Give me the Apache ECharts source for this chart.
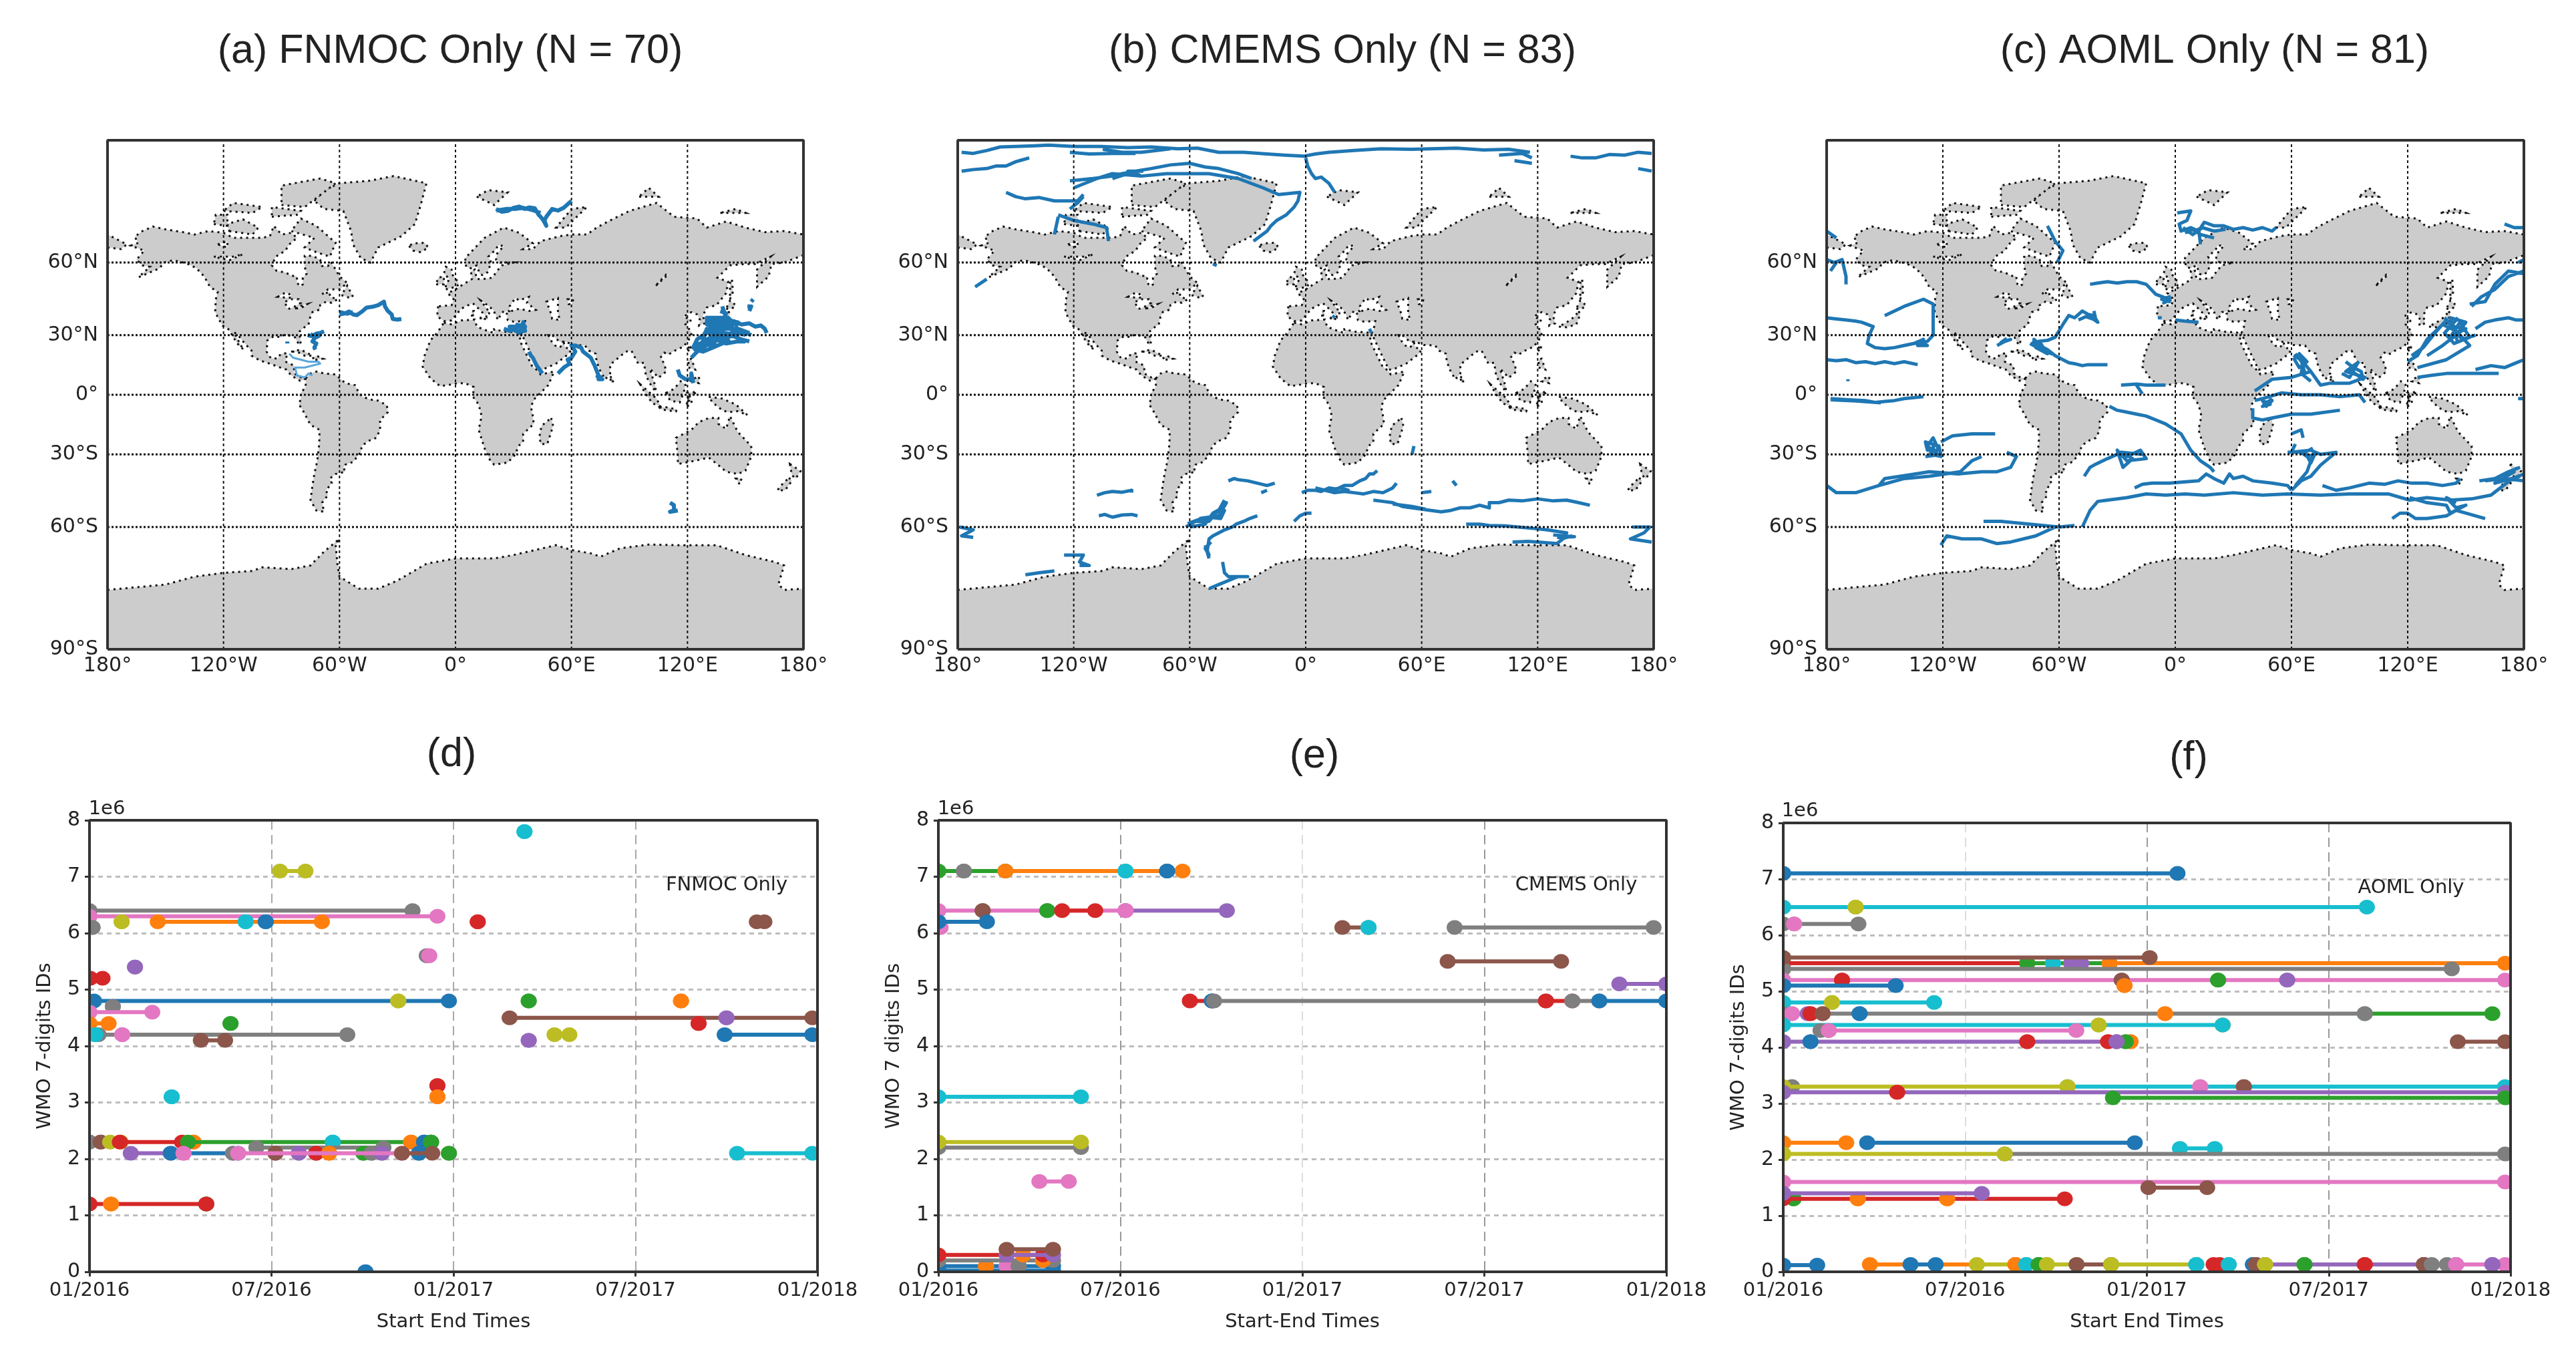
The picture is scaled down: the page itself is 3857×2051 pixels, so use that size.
<!doctype html>
<html>
<head>
<meta charset="utf-8">
<title>Drifter tracks</title>
<style>
  html, body { width: 100%; height: 100%; margin: 0; padding: 0; background: #fff; }
  #container { width: 100%; height: 100%; }
</style>
<script src="https://cdn.jsdelivr.net/npm/echarts@6/dist/echarts.min.js"></script>
</head>
<body>
<div id="container"></div>
<script>
// map axes
const lonTicks = [-180, -120, -60, 0, 60, 120, 180];
const lonLabels = ['180°', '120°W', '60°W', '0°', '60°E', '120°E', '180°'];
const latTicks = [60, 30, 0, -30, -60, -90];
const latLabels = ['60°N', '30°N', '0°', '30°S', '60°S', '90°S'];

// timeline axes, x in months after 01/2016
const timeLabels = ['01/2016', '07/2016', '01/2017', '07/2017', '01/2018'];

// land outlines [lon, lat]
const northAmerica = [[-168,65.6],[-164,66.5],[-166,68.3],[-162,70],[-156.5,71.3],[-150,70.5],[-141,69.7],[-135,69],[-128,70],[-120,69.5],[-115,68],[-108,68],[-100,68],[-96,68.5],[-94,71.5],[-90,69],[-85,69.5],[-82,68],[-86,66],[-88,64],[-93,62],[-95,59],[-92.5,57],[-88,56.5],[-85,55.3],[-82,55],[-82,52.5],[-80,51.2],[-79,52],[-79,54.5],[-77,56],[-78,58.5],[-78,62.3],[-74,62.3],[-70,61],[-69,58.8],[-66,58.8],[-64.5,60.3],[-62,57.5],[-60,55],[-56,52.5],[-60,50],[-66,50],[-69,48],[-65,49],[-65,47],[-61,46],[-64,44.5],[-67,45],[-70,43.5],[-70,41.7],[-74,40.5],[-75.5,37.5],[-76,35],[-78,33.8],[-81,31.5],[-80,27],[-80.5,25.2],[-82,27],[-83,29],[-85,29.7],[-89,30],[-90,29],[-94,29.5],[-97.3,27.5],[-97.7,22],[-95.5,18.7],[-92,18.6],[-90.5,20.8],[-87,21.3],[-88,17],[-83.5,15],[-83.5,11],[-80,9],[-77.5,8.5],[-78.5,7.5],[-80.5,7.3],[-85,10],[-87.5,13],[-92,14.5],[-96,16],[-101,17.5],[-105.5,20],[-105.5,22.5],[-109,26],[-112.5,30],[-114.7,31.5],[-111,25],[-109.5,23],[-112,25],[-115,29],[-117,32.5],[-120.5,34.5],[-122.5,37.5],[-124.3,40.5],[-124,46],[-123,49],[-127,51],[-130,55],[-134,58],[-139,59.7],[-146,60.8],[-151,60],[-153,58],[-158,56.5],[-164,54.7],[-158,58.5],[-162,59],[-165,61],[-161,64]];
const southAmerica = [[-77.5,8.5],[-75,11],[-72,12],[-68,11],[-62,10.5],[-57,6],[-52,5],[-50,1],[-48,-1],[-44,-2.5],[-40,-3],[-35.5,-5.5],[-35,-9],[-39,-13],[-39,-18],[-41,-22],[-45,-23.5],[-48.5,-26],[-49,-29],[-53,-33.5],[-57,-34.8],[-58,-36],[-57,-38],[-62,-39],[-65,-41],[-64,-43],[-67,-46],[-66,-48],[-69,-51],[-68,-54.5],[-72,-54],[-75,-50],[-74,-44],[-73,-39],[-71.5,-33],[-70.5,-25],[-70.3,-18],[-75,-15.5],[-79,-8],[-81,-5],[-80,-2],[-80,1],[-77.5,4]];
const africa = [[-6,35.8],[-2,35],[3,36.8],[10,37.2],[11,34],[15,32.5],[20,31],[20,32.8],[25,31.7],[32,31.2],[34.3,31.3],[34.8,29.5],[33,28],[35,24],[37,20],[39.5,15],[43,12],[44,10.5],[51,12],[48,5],[41,-2],[39,-6],[40,-11],[40.5,-15],[35,-20],[35,-24],[32.5,-26],[31,-30],[27,-33.8],[20,-34.8],[18,-33],[15,-27],[12,-18],[13.5,-11],[12,-5],[9,-1],[9.5,4],[5,6],[1,6],[-4,5],[-8,4.5],[-13,8.5],[-17,14.5],[-16,20],[-13,27.5],[-9.5,31]];
const eurasia = [[-9,43],[-9.5,38.7],[-6,36.5],[-2,36.8],[0,39],[3,42],[6,43.3],[9,44.3],[12,42],[16,38.5],[16,40],[18,40],[13,45.5],[15,44.5],[19.5,41.5],[22,37],[24,40.5],[28,41],[28,43],[31,46.5],[33,45.5],[38,47],[37,44.5],[41.5,41.5],[38,41],[33,42],[29,41],[26.5,39.8],[27,37],[30,36.3],[36,36.5],[35,32],[34.3,31.3],[34.8,29.5],[39,21],[43,13],[45,13],[52,16],[58,20.5],[59.7,22.5],[56.5,24.5],[56,26.5],[54,24],[51.5,25],[50,26.5],[48,30],[50,30],[54,26.8],[57,26.8],[61,25.3],[67,25],[69,22.5],[72.5,21],[73,17],[75,12],[77.5,8],[80,11],[80,15.5],[85,19.5],[88,22],[91,22.5],[94.5,16],[97.5,16.5],[98.5,10],[100.5,6],[103.5,1.5],[103.5,4],[100.5,13.5],[103,11],[105,8.8],[109,12],[108,16],[106,19],[108,21.5],[110,20.5],[113.5,22.5],[118,24.5],[122,29.5],[122,31.5],[119,35],[122,37],[118,38.5],[122,40.5],[125,39.5],[126.5,37],[126,34.5],[129,35.5],[128,39],[130,42.5],[135,43.5],[140,48.5],[141,53],[135.5,54.5],[142,59],[150,59.5],[155,59.5],[163,62],[156,57.5],[156,51],[162,55],[163.5,59.5],[170,60],[180,62.5],[180,69],[170,70],[160,69.7],[150,71],[140,72.7],[130,71],[125,73.5],[113,74],[104,77.5],[90,75.5],[80,73],[73,71],[68,69],[60,69],[54,68.5],[44,67],[40,64.5],[35,64.5],[40,66.3],[33,69.5],[25,71],[15,68],[5,61.5],[5.5,58.5],[8,58],[11,59],[12.5,56],[14,55.5],[16.5,56.5],[18.5,60],[17,62],[21,64.5],[22,65.7],[25,65.5],[21.5,63],[21,61],[23,60],[30,60],[24,59],[21.5,57],[19,54.5],[14,54],[11,54],[10,57.5],[8,57],[8.5,54],[4,52],[0,50],[-4,48.5],[-1,46],[-2,43.5]];
const chukotka = [[-180,65],[-173,64.5],[-170,66],[-180,69]];
const greenland = [[-73,78],[-68,80.5],[-60,82],[-45,82.5],[-32,83.5],[-15,82],[-18,77],[-21,72],[-28,68.5],[-40,65],[-44,60],[-49,61.5],[-53,66],[-54,70],[-58,75.5],[-68,76]];
const australia = [[114,-22],[122,-18],[126,-14],[131,-12],[136,-12],[136,-15],[140,-17.5],[142,-11],[146,-19],[153,-26],[153,-31],[150,-37.5],[146,-39],[140,-38],[136,-35],[131,-31.5],[124,-33],[115,-34.5],[115,-30]];
const antarctica = [[-180,-78.3],[-150,-77],[-135,-75],[-120,-74],[-105,-73.5],[-100,-72.5],[-85,-73],[-75,-72],[-68,-68],[-60,-64],[-62,-66],[-61,-72],[-60,-75],[-50,-78],[-40,-78],[-30,-76],[-15,-71.5],[0,-70],[20,-70],[30,-69],[52,-66],[60,-67.5],[70,-68.5],[75,-69.5],[85,-67],[100,-65.8],[115,-66],[135,-66],[150,-69],[165,-71],[170,-72],[167,-77],[170,-78.3],[180,-78],[180,-90],[-180,-90]];
const islands = [
  [[49.5,-12],[50.5,-16],[47.5,-25],[44,-25],[43.5,-21],[44.5,-16]],
  [[-5,50],[1,51.2],[1.5,52.8],[-2,56],[-2,57.5],[-5,58.5],[-6,56],[-3,54],[-5,52]],
  [[-10,52],[-6,52],[-6,55],[-9,54.5]],
  [[-24,65.5],[-22,64],[-18,63.5],[-14,65],[-16,66.5],[-22,66.3]],
  [[131,34],[135,33.7],[140,35],[142,39.5],[141,41.3],[139.8,39],[136,36.5]],
  [[140,42],[143,42],[145,43.5],[142,45.5]],
  [[142,46],[143.5,49],[143,54],[142,53],[142,47]],
  [[120.2,23],[121,22],[122,25],[121,25]],
  [[120.5,14],[124,13],[122,18.5],[120.5,18]],
  [[122,7],[126,6],[126,9.5],[123.5,8.5]],
  [[109,1],[111,-3],[116,-4],[118,1],[119,5],[116.5,7],[113,3]],
  [[95.5,5.5],[104,-2],[106,-6],[102,-4.5],[98,1]],
  [[105.5,-6.5],[110,-6.5],[114.5,-7.7],[114,-8.7],[106,-7.5]],
  [[119.5,-5],[120.5,-2.7],[119.7,1],[125,1.5],[121,-1],[122.5,-4.5],[120.5,-3],[120.3,-5.5]],
  [[131,-1],[138,-2],[145,-5],[151,-10.5],[146,-8.5],[141,-9],[138,-8],[133,-4]],
  [[173,-34.5],[178.5,-37.7],[176,-41],[174,-39.5]],
  [[172.5,-40.7],[174,-42],[170.5,-46],[166.5,-46],[169,-43.5]],
  [[-85,22],[-80,23],[-74,20],[-78,20],[-82,22]],
  [[-74,18.5],[-72,20],[-68.5,18.5],[-72,18]],
  [[80,9.5],[82,7.5],[80.5,6]],
  [[-59,47.7],[-55.5,46.8],[-53,47],[-56,51.5]],
  [[-80,73.5],[-72,71.5],[-62,66.5],[-65,62],[-72,63.5],[-78,65],[-73,68],[-85,70]],
  [[-117,70],[-105,69],[-102,71],[-110,73.3],[-118,72]],
  [[-90,77],[-78,76.5],[-62,82],[-70,83],[-90,81.5]],
  [[-125,72],[-118,71.5],[-118,74.5],[-124,74.5]],
  [[-95,74],[-82,74.5],[-80,75.5],[-95,76.5]],
  [[-120,75.5],[-105,75],[-100,76.5],[-115,77.5]],
  [[11,79],[20,77],[27,80],[17,80.5]],
  [[52,71],[57,71],[68,76.5],[60,76]],
  [[95,79],[105,79],[100,81]],
  [[137,75],[150,75],[145,76]],
  [[145,-41],[148,-41],[147,-43.5]],
  [[8.5,39],[9.7,39.2],[9.5,41],[8.3,40.8]],
  [[12.5,38],[15.5,38],[15,36.8]]
];
const lakes = [
  [[47,45],[53,46.5],[53,40],[54,37],[50,37.5],[49,41]],
  [[58,46],[61,46],[60,44],[58.5,44]],
  [[-92,47],[-88,48.7],[-85,47.8],[-85,46.7],[-88,46.7]],
  [[-88,45],[-85,46],[-81,46],[-80,44.5],[-83,43],[-86,42],[-87.5,42.5]],
  [[-83,42],[-79,43.5],[-76.5,44],[-79,42.7]],
  [[-125,62],[-115,62],[-110,62.8],[-117,60.8]],
  [[-123,66],[-118,67],[-118,65]],
  [[103.7,51.5],[110,55.7],[109,55.7],[105,52.7]]
];
const landPolygons = [northAmerica, southAmerica, africa, eurasia, chukotka, greenland, australia, antarctica].concat(islands);

// drifter tracks [lon, lat]
const fnmocTracks = [
  [[21,76],[24,75.3],[27,75.5],[30,76.3],[33,76.6],[36,76],[38,76.4],[41,76.2],[43,74.5],[44,74],[45.5,73],[47,71.5],[46,73],[47,74],[50,76],[53,75.6],[56,76.3],[60,78]],
  [[21,75.6],[26,76],[31,76],[35,76.3],[40,75.7],[44,75]],
  [[-60,39.5],[-57,40],[-55,40.8],[-53,39.5],[-51,39.2],[-48,41],[-46,42.5],[-43,42.8],[-40,43.5],[-37,45],[-36.5,43],[-35,41],[-33,39.5],[-32.5,37.5],[-30,37.2],[-28,37.5]],
  [[-60,40.5],[-56,39.8],[-53,40.5]],
  [[-76.5,30],[-74,29.5],[-72,30.7],[-70,31],[-68,31.8]],
  [[-73,31],[-72.5,29],[-74,27],[-72,26],[-73,24],[-72.5,23]],
  [[-75,30.5],[-72,29],[-70,30]],
  [[-87,27],[-87,26]],
  [[25,33],[28,32],[31,33],[33,31],[35,36],[36,32],[31,32],[28,34],[33,34],[36,34],[31,35]],
  [[38,22],[39,20],[40,19],[41,17],[42,15],[45,11]],
  [[53,11],[56,14],[59,16],[58,18],[60,19],[62,22],[60,25],[62,25],[65,24],[66,22],[70,19],[71,17],[72,15],[74,10],[74,8],[76,8],[73.5,9.5],[76,9]],
  [[115,13],[116,10],[119,8],[122,8],[122,11],[123,6]],
  [[130,37],[134,36.5],[140,36],[144,36.5],[148,35],[152,35.5],[155,34],[158,34.5],[160,33],[161,31]],
  [[138,43],[140,38],[135,34],[130,31],[125,28],[123,24],[125,25],[130,28],[135,30],[142,30],[148,28],[152,27]],
  [[122,19],[125,22],[128,24],[133,27],[138,28],[144,32],[150,30]],
  [[130,36],[135,36],[140,33],[135,32],[130,33],[128,28],[135,28],[140,26],[146,27],[150,27]],
  [[146,34],[141,38],[136,38],[130,38],[130,35],[138,33],[146,33],[152,31]],
  [[131,38],[139,37],[146,36],[139,35],[131,35],[135,38],[143,34],[134,33],[129,31],[139,31],[146,30],[140,29],[132,29]],
  [[125,26],[129,25],[134,26],[129,27],[124,23],[128,22],[133,24],[138,26],[142,28]],
  [[137,41],[140,40],[138,36],[142,33],[148,32],[153,30]],
  [[152,41],[153,43],[151,43]],
  [[153,45],[154,46]],
  [[111,-51],[113,-52],[113,-54],[111,-54.5],[115,-54]]
];
const fnmocCaribbeanTrack = [[-86,21],[-84,19],[-80,18],[-76,17],[-71,17],[-70,16],[-78,14],[-83,14],[-82,10],[-78,9],[-76,11],[-74,10]];
const cmemsTracks = [
  [[-178,88],[-172,87.8],[-165,88.3],[-158,88.9],[-150,89],[-140,89.1],[-133,89.2],[-120,89],[-106,89],[-92,88.8],[-80,88.9],[-66,88.6],[-56,88.7],[-45,88],[-32,88],[-20,87.7],[-11,87.5],[-1,87.3],[5,87.7],[12,88],[25,88.3],[39,88.6],[55,88.5],[78,88.7],[92,88.4],[105,88.5],[116,88]],
  [[-178,84.5],[-172,84.8],[-165,85],[-160,85.5],[-155,85.5],[-150,86.3],[-148,86.5],[-143,87]],
  [[-122,88],[-112,87.7],[-100,87.8],[-88,87.8]],
  [[-105,88.5],[-95,88],[-85,88],[-70,88.6]],
  [[-122,82.5],[-110,83],[-100,83.5],[-95,84],[-88,84.5],[-80,85],[-70,85.7],[-60,86],[-52,85.3],[-45,85],[-35,84],[-28,83]],
  [[-100,83],[-92,84],[-86,83.7],[-92,84.5],[-84,84.5]],
  [[-120,81],[-108,83],[-100,84],[-85,83.5],[-72,84],[-50,84],[-35,83],[-22,81],[-14,79.5],[-3,80],[-4,78],[-6,76.5],[-10,74.5],[-15,73],[-18,71.5],[-20,70],[-27,67]],
  [[-155,80],[-150,79],[-145,78.5],[-138,78.8],[-130,78],[-124,78],[-118,78],[-115,79.5]],
  [[-122,76],[-118,77.5],[-115,79]],
  [[-128,74.5],[-120,73],[-110,72],[-103,71],[-102,67]],
  [[-128,74],[-130,69]],
  [[-171,51],[-165,54]],
  [[-48,59.5],[-46,59]],
  [[0,87],[1,85.5],[3,84],[5,83],[8,83.3],[12,82],[15,80]],
  [[137,87.3],[143,87],[150,87],[157,87.6],[165,87.5],[172,88],[179,87.8]],
  [[172,85],[179,84.5]],
  [[108,86.5],[117,86]],
  [[100,87.5],[112,87.8],[117,87]],
  [[14,38],[15,39]],
  [[34,31],[33,33]],
  [[55,-30],[56,-26]],
  [[-108,-48],[-104,-47],[-100,-46.5],[-95,-46.8],[-90,-46],[-90,-47]],
  [[-107,-56],[-104,-55.5],[-100,-56.5],[-95,-55.7],[-90,-55.5],[-87,-56]],
  [[-40,-42],[-37,-41],[-35,-41.5],[-30,-42],[-25,-43],[-20,-44],[-16,-43]],
  [[-23,-47],[-20,-46]],
  [[-2,-47],[1,-46],[5,-46],[8,-46.5],[12,-45],[16,-45.5],[20,-44],[24,-44],[28,-42],[31,-41],[33,-39],[35,-39],[37,-37.5]],
  [[5,-45],[10,-46],[15,-47],[20,-46.5],[25,-47],[30,-47.5],[35,-46.5],[40,-47],[45,-45],[47,-43]],
  [[12,-46],[18,-45],[22,-46],[14,-47]],
  [[60,-47],[65,-46.5]],
  [[76,-42],[78,-44]],
  [[35,-50],[40,-50.5],[45,-51],[50,-52.5],[55,-53],[60,-53.5],[65,-54],[70,-54.5],[75,-54],[80,-53],[85,-53],[90,-52],[95,-53],[95,-51],[100,-51],[105,-50],[112,-50.3],[120,-49.5],[128,-50.3],[135,-50],[140,-50.8],[147,-52]],
  [[45,-51.5],[55,-52.5],[62,-53.5]],
  [[-6,-58],[-3,-56],[0,-55],[3,-55]],
  [[-62,-60],[-57,-58],[-52,-58],[-48,-56],[-45,-54],[-42,-50]],
  [[-60,-60],[-52,-59],[-48,-55],[-43,-53],[-41,-51],[-45,-56],[-55,-57]],
  [[-61,-58.8],[-54,-57],[-50,-58],[-46,-54.5],[-42,-54],[-44,-57],[-50,-56.5]],
  [[-25,-56],[-29,-57],[-32,-58],[-36,-59],[-38,-60],[-42,-61],[-45,-62],[-48,-63],[-50,-64],[-51,-68],[-50,-70]],
  [[-49,-65],[-52,-67],[-50,-69],[-52,-66]],
  [[-43,-71],[-42,-74],[-40,-75],[-30,-75],[-35,-75],[-45,-77],[-50,-78]],
  [[83,-59],[90,-59],[95,-59.5],[103,-59.6],[110,-60],[118,-60.5],[125,-61],[135,-62],[132,-64],[138,-63]],
  [[128,-62.7],[139,-63.3],[130,-63.5]],
  [[107,-65],[115,-64.8],[120,-65],[130,-65.5],[135,-63]],
  [[169,-60],[178,-60],[175,-62],[168,-64],[179,-65]],
  [[-179,-60],[-172,-61],[-178,-63],[-172,-63.5]],
  [[-125,-69],[-115,-69],[-117,-71],[-112,-72],[-117,-72]],
  [[-145,-74.5],[-138,-74],[-130,-73.5]]
];
const aomlTracks = [
  [[1,75],[8,75.5],[6,73],[2,72],[3,70],[8,71],[12,70],[15,72.5],[20,71.5],[25,71.5],[30,70.5],[35,71],[40,70.3],[45,71],[50,70],[52,71]],
  [[5,69.5],[9,70.5],[13,69],[20,68]],
  [[4,71],[9,69],[14,71],[20,70],[26,70.5]],
  [[12,71],[13,66]],
  [[-66,71.5],[-62,67],[-58,64],[-61,60]],
  [[-180,70],[-175,68]],
  [[-180,61],[-176,60],[-172,61],[-170,55],[-170,52]],
  [[-175,60],[-178,57]],
  [[-44,52],[-40,52.5],[-35,53],[-30,52.5],[-25,53],[-20,53],[-15,52],[-10,48],[-5,46.5],[-3,45],[-5,45.5],[-7,46],[-3,47],[-6,44.5],[-2,46]],
  [[-9,38],[-7,38]],
  [[0,37],[5,36.5],[12,36]],
  [[-180,38],[-175,37.5],[-170,37],[-165,36.5],[-162,36],[-156,34],[-158,30],[-159,26],[-155,24],[-150,23.5],[-145,24],[-140,25],[-135,26],[-128,27],[-125,30],[-125,36],[-125,44],[-130,46],[-140,43],[-150,39]],
  [[-135,26],[-130,28],[-133,25],[-128,25],[-132,27]],
  [[-180,18],[-175,17.5],[-170,18],[-165,16.5],[-160,17],[-155,16],[-150,17],[-145,16],[-140,17],[-133,15.5]],
  [[-178,-2],[-170,-2.5],[-160,-3],[-155,-4],[-150,-3.5],[-145,-3],[-140,-2],[-130,-1]],
  [[-178,-2.6],[-165,-3.2],[-152,-4.2]],
  [[-169,8],[-169,7]],
  [[-74,27],[-70,25],[-66,23],[-62,20],[-58,18],[-55,16.5],[-52,16],[-48,15],[-45,15.5],[-35,15.5]],
  [[-74,25],[-70,27],[-67,22],[-72,24],[-66,21],[-73,28],[-68,24],[-64,21],[-69,23],[-75,26]],
  [[-92,25],[-88,27],[-85,28],[-90,26.5],[-87,28.5]],
  [[-71,27],[-66,27.5],[-62,29],[-58,35],[-55,39],[-52,38],[-48,41],[-45,39.5],[-42,39],[-40,36],[-45,39],[-50,37]],
  [[-42,41],[-41,37],[-46,38.5]],
  [[-28,5],[-20,5.5],[-15,5],[-5,5]],
  [[-20,5],[-17,0.5]],
  [[-34,-6],[-30,-8],[-25,-9],[-20,-10],[-15,-11],[-10,-13],[-5,-15],[3,-20],[8,-28],[13,-33],[18,-36],[20,-38]],
  [[-47,-40],[-44,-36],[-42,-35],[-35,-32],[-30,-30],[-25,-31],[-18,-28],[-15,-32],[-25,-33],[-30,-28],[-27,-36],[-22,-32],[-28,-29],[-17,-30]],
  [[-21,-45],[-17,-43.5],[-12,-43],[-3,-43],[12,-42],[16,-39],[20,-41],[25,-43],[28,-39],[30,-41],[35,-40],[40,-42],[50,-43],[58,-44],[60,-46]],
  [[60,-46],[65,-42],[70,-40],[75,-35],[83,-29],[75,-30],[70,-28],[60,-29],[62,-25]],
  [[72,-28],[68,-38],[62,-44]],
  [[58,-29],[65,-29],[68,-31],[72,-30],[70,-34],[67,-29],[71,-27]],
  [[76,-44],[83,-46],[90,-45],[100,-43],[108,-43.5],[115,-42],[122,-43],[130,-43],[138,-44],[145,-43],[147,-41]],
  [[157,-42],[165,-41],[172,-38],[178,-36]],
  [[160,-42],[170,-41],[180,-42]],
  [[170,-40],[175,-38],[165,-43],[178,-40]],
  [[-180,-44],[-175,-47],[-165,-47],[-153,-44],[-150,-41],[-138,-39.5],[-127,-38],[-112,-39],[-100,-38],[-92,-38],[-85,-36],[-82,-31],[-87,-29]],
  [[-153,-44],[-140,-41],[-127,-40],[-111,-38],[-105,-33],[-100,-31]],
  [[-129,-31],[-121,-30],[-122,-26],[-129,-24],[-128,-28],[-122,-28],[-125,-22],[-128,-26],[-121,-31],[-126,-30],[-124,-24],[-127,-31]],
  [[-121,-24],[-115,-21],[-105,-20],[-93,-20]],
  [[-48,-60],[-44,-54],[-40,-50.5],[-35,-50],[-25,-49],[-15,-47.5],[-5,-48],[5,-47.5],[15,-48],[30,-47],[45,-48],[58,-47.5],[75,-48],[90,-47.5],[110,-47.5],[121,-50],[130,-49],[142,-50],[153,-49.5],[163,-48],[174,-41],[180,-39]],
  [[-99,-58],[-90,-58],[-75,-59],[-60,-60],[-52,-59.5]],
  [[-121,-66],[-118,-63],[-110,-64],[-100,-64],[-92,-65.5],[-85,-65],[-72,-63],[-62,-60]],
  [[112,-57],[116,-55],[120,-55],[124,-57],[130,-57],[140,-56],[145,-54],[150,-55],[160,-57]],
  [[121,-49],[130,-51],[140,-52],[142,-55],[150,-52],[145,-53],[140,-49],[145,-51]],
  [[41,2],[50,8],[60,9],[70,12]],
  [[41,-3],[45,-2],[55,1],[65,0],[75,0],[85,-1],[95,0],[98,-4]],
  [[40,-7],[40,-12],[45,-13],[50,-12],[60,-10],[70,-10],[85,-8]],
  [[46,-4],[50,-3],[47,-6],[45,-3],[49,-5],[45,-6],[50,-2]],
  [[61,20],[65,18],[70,12],[75,5],[80,6],[90,6],[98,9],[88,12],[92,15],[95,17]],
  [[88,17],[92,14],[96,12],[97,8],[90,13],[94,16],[90,9],[86,11]],
  [[62,21],[66,16],[65,11],[70,7]],
  [[61,19],[64,14],[68,17],[64,21],[67,11]],
  [[60,-20],[65,-18],[66,-22]],
  [[120,17],[125,20],[130,28],[138,35],[145,32],[152,25],[140,18],[125,14]],
  [[122,20],[128,24],[135,32],[140,37],[148,28],[155,30]],
  [[130,20],[138,25],[145,30],[150,36],[142,38],[146,26]],
  [[139,38],[144,34],[150,33],[142,29],[147,36],[152,29],[144,26],[139,31],[146,38]],
  [[155,33],[160,36],[165,37],[172,38],[176,37],[180,37]],
  [[155,13],[163,15],[170,14],[175,16],[180,18]],
  [[125,9],[132,10],[140,11],[155,11],[167,11]],
  [[153,43],[158,47],[165,50],[172,55],[180,57]],
  [[152,44],[160,45],[165,52],[172,57],[180,56]],
  [[170,72],[175,71],[180,71]],
  [[177,60],[180,61]],
  [[177,-2],[180,-2]]
];

// timelines: [start month, end month, WMO id / 1e6, plot order]
const fnmocSegments = [
  [6.28,7.12,7.1,8],[14.34,14.34,7.8,9],[0,10.65,6.4,7],[0,11.47,6.3,6],[2.25,7.66,6.2,1],[1.06,1.06,6.2,8],[5.15,5.15,6.2,9],[5.81,5.81,6.2,0],[0.1,0.1,6.1,7],[12.8,12.8,6.2,3],[22,22.25,6.2,5],
  [1.5,1.5,5.4,4],[11.12,11.12,5.6,7],[11.2,11.2,5.6,6],[0.03,0.43,5.2,3],[0.15,11.85,4.8,0],[10.18,10.18,4.8,8],[14.48,14.48,4.8,2],[19.5,19.5,4.8,1],[0.77,0.77,4.7,7],[0,2.07,4.6,6],
  [0,0.63,4.4,1],[4.65,4.65,4.4,2],[0.3,8.5,4.2,7],[0.19,0.19,4.2,9],[1.08,1.08,4.2,6],[3.67,4.47,4.1,5],[13.85,23.83,4.5,5],[21,21,4.5,4],[20.08,20.08,4.4,3],[20.94,23.83,4.2,0],[15.33,15.82,4.2,8],[14.48,14.48,4.1,4],
  [2.71,2.71,3.1,9],[11.47,11.47,3.3,3],[11.47,11.47,3.1,1],
  [0,0,2.3,7],[0.37,0.37,2.3,5],[0.68,1.03,2.3,8],[1,3.05,2.3,3],[3.43,3.43,2.3,1],[3.25,11.26,2.3,2],[8.02,8.02,2.3,9],[10.6,10.6,2.3,1],[11.03,11.03,2.3,0],[11.26,11.26,2.3,2],
  [5.5,9.69,2.2,7],[1.36,2.68,2.1,4],[2.68,4.9,2.1,0],[3.1,3.1,2.1,6],[4.73,4.73,2.1,7],[6.13,6.13,2.1,5],[6.9,6.9,2.1,4],[7.47,7.47,2.1,3],[7.9,7.9,2.1,1],[9.03,9.03,2.1,2],[9.3,9.3,2.1,7],[9.64,9.64,2.1,4],[10.86,10.86,2.1,0],[4.9,10.3,2.1,6],[10.3,11.3,2.1,5],[11.85,11.85,2.1,2],
  [21.35,23.83,2.1,9],[3.85,3.85,1.2,2],[0,3.85,1.2,3],[0.71,0.71,1.2,1],[9.1,9.1,0,0]
];
const cmemsSegments = [
  [0,2.21,7.1,2],[0.84,0.84,7.1,7],[2.21,8.05,7.1,1],[6.17,6.17,7.1,9],[7.54,7.54,7.1,0],
  [0,6.17,6.4,6],[1.46,1.46,6.4,5],[3.59,3.59,6.4,2],[4.08,5.17,6.4,3],[6.17,9.51,6.4,4],[6.17,6.17,6.4,6],
  [0.07,0.07,6.1,6],[0,1.6,6.2,0],[13.32,14.18,6.1,5],[14.18,14.18,6.1,9],[17.02,23.58,6.1,7],[16.79,20.53,5.5,5],[22.45,24,5.1,4],
  [8.29,9.02,4.8,3],[9.02,9.02,4.8,0],[9.09,20.03,4.8,7],[20.03,20.9,4.8,3],[20.9,21.79,4.8,7],[21.79,24,4.8,0],
  [0,4.7,3.1,9],[0,4.7,2.2,7],[0,4.7,2.3,8],[3.33,4.3,1.6,6],
  [0,3.78,0.02,0],[0,3.78,0.1,0],[1.57,1.57,0.1,1],[2.25,2.25,0.1,6],[2.65,2.65,0.1,7],[0,3.78,0.2,7],[3.45,3.45,0.2,1],[0,3.45,0.3,3],[2.79,2.79,0.3,1],[2.25,3.78,0.3,4],[2.25,3.78,0.4,5]
];
const aomlSegments = [
  [0,13.01,7.1,0],[0,19.26,6.5,9],[2.39,2.39,6.5,8],[0,2.48,6.2,7],[0.36,0.36,6.2,6],
  [0,8.05,5.5,3],[8.05,10.77,5.5,2],[8.9,8.9,5.5,9],[9.5,9.83,5.5,4],[10.77,23.82,5.5,1],[0,22.06,5.4,7],[0,12.09,5.6,5],
  [0,23.82,5.2,6],[1.94,1.94,5.2,3],[11.17,11.17,5.2,5],[14.35,14.35,5.2,2],[16.63,16.63,5.2,4],[0,3.71,5.1,0],[11.26,11.26,5.1,1],[0,4.98,4.8,9],[1.61,1.61,4.8,8],
  [19.19,23.4,4.6,2],[0,19.19,4.6,7],[0.29,0.29,4.6,6],[0.81,0.81,4.6,4],[0.9,0.9,4.6,3],[1.3,1.3,4.6,5],[2.52,2.52,4.6,0],[12.6,12.6,4.6,1],
  [14.5,14.5,4.4,8],[0,14.5,4.4,9],[10.41,10.41,4.4,8],[1.23,1.5,4.3,7],[1.5,9.67,4.3,6],[0,11,4.1,4],[0.9,0.9,4.1,0],[8.05,8.05,4.1,3],[10.72,10.72,4.1,3],[11.46,11.46,4.1,1],[11.3,11.3,4.1,2],[11,11,4.1,4],[22.26,23.82,4.1,5],
  [0.29,0.29,3.3,7],[9.38,23.82,3.3,9],[0,9.38,3.3,8],[13.76,13.76,3.3,6],[15.2,15.2,3.3,5],[0,23.82,3.2,4],[3.76,3.76,3.2,3],[10.88,23.82,3.1,2],
  [0,2.08,2.3,1],[2.77,11.6,2.3,0],[13.09,14.24,2.2,9],[7.31,23.82,2.1,7],[0,7.31,2.1,8],[0,23.82,1.6,6],[12.05,13.99,1.5,5],
  [0.34,0.34,1.3,2],[0,9.29,1.3,3],[2.46,2.46,1.3,1],[5.41,5.41,1.3,1],[0,6.55,1.4,4],
  [0,1.12,0.12,0],[2.86,7.66,0.13,1],[4.2,5.03,0.13,0],[6.39,8.7,0.13,8],[7.66,7.66,0.13,1],[8.02,8.02,0.13,9],[8.43,8.43,0.13,2],[8.7,9.68,0.13,8],[9.68,10.82,0.13,5],[10.82,13.63,0.13,8],[13.63,13.63,0.13,9],[14.2,14.4,0.13,3],[14.7,14.7,0.13,9],[15.5,15.5,0.13,0],[15.6,15.6,0.13,5],[15.9,21.14,0.13,4],[15.9,15.9,0.13,8],[17.2,17.2,0.13,2],[19.19,19.19,0.13,3],[21.14,21.14,0.13,5],[21.4,21.9,0.13,7],[22.2,22.2,0.13,4],[22.2,23.82,0.13,6],[23.4,23.4,0.13,4]
];

const tab10 = ['#1f77b4','#ff7f0e','#2ca02c','#d62728','#9467bd','#8c564b','#e377c2','#7f7f7f','#bcbd22','#17becf'];
const axisFont = 'DejaVu Sans';

// Miller cylindrical y, used as the map's y value
function miller(lat) {
    return 1.25 * Math.log(Math.tan(Math.PI / 4 + 0.4 * lat * Math.PI / 180));
}
const millerTop = miller(90), millerBottom = miller(-90);

const mapGrids = [
    { left: 161, right: 3857 - 1203, top: 210, bottom: 2051 - 972 },
    { left: 1434, right: 3857 - 2476, top: 210, bottom: 2051 - 972 },
    { left: 2735, right: 3857 - 3779, top: 210, bottom: 2051 - 972 }
];
const timeGrids = [
    { left: 134, right: 3857 - 1224, top: 1228, bottom: 2051 - 1904 },
    { left: 1405, right: 3857 - 2495, top: 1228, bottom: 2051 - 1904 },
    { left: 2670, right: 3857 - 3759, top: 1232, bottom: 2051 - 1904 }
];
// vertical grid greys differ from panel to panel
const timeSplitColors = [
    ['#fff', '#a8a8a8', '#a8a8a8', '#a8a8a8', '#fff'],
    ['#fff', '#999999', '#dddddd', '#999999', '#fff'],
    ['#fff', '#dddddd', '#999999', '#999999', '#fff']
];

function polygonSeries(polys, idx, fill, z) {
    return {
        type: 'custom', xAxisIndex: idx, yAxisIndex: idx, clip: true, silent: true, z: z,
        data: polys.map((p, i) => [i, 0]),
        renderItem: function (params, api) {
            const points = polys[params.dataIndex].map(p => api.coord([p[0], miller(p[1])]));
            return {
                type: 'polygon',
                shape: { points: points },
                style: { fill: fill, stroke: '#111', lineWidth: 3, lineDash: [3, 6] }
            };
        }
    };
}

function trackSeries(tracks, idx, color, width) {
    const data = [];
    tracks.forEach(t => {
        t.forEach(p => data.push([p[0], miller(p[1])]));
        data.push(['-', '-']);
    });
    return {
        type: 'line', xAxisIndex: idx, yAxisIndex: idx, data: data, silent: true, z: 4,
        showSymbol: false, symbol: 'none', connectNulls: false,
        lineStyle: { color: color, width: width, join: 'round' }
    };
}

function frameSeries(idx, x0, x1, y0, y1) {
    return {
        type: 'line', xAxisIndex: idx, yAxisIndex: idx, silent: true, z: 9, clip: false,
        symbol: 'none', showSymbol: false,
        data: [[x0, y0], [x1, y0], [x1, y1], [x0, y1], [x0, y0]],
        lineStyle: { color: '#333', width: 4 }
    };
}

function segmentSeries(segs, idx) {
    return {
        type: 'custom', xAxisIndex: idx, yAxisIndex: idx, clip: true, silent: true, z: 5,
        encode: { x: [0, 1], y: 2 },
        data: segs,
        renderItem: function (params, api) {
            const a = api.coord([api.value(0), api.value(2)]);
            const b = api.coord([api.value(1), api.value(2)]);
            const c = tab10[api.value(3)];
            const dot = p => ({ type: 'ellipse', shape: { cx: p[0], cy: p[1], rx: 12, ry: 11 }, style: { fill: c } });
            return {
                type: 'group',
                children: [
                    { type: 'line', shape: { x1: a[0], y1: a[1], x2: b[0], y2: b[1] }, style: { stroke: c, lineWidth: 6 } },
                    dot(a), dot(b)
                ]
            };
        }
    };
}

const grids = [], xAxes = [], yAxes = [], series = [];

mapGrids.forEach((g, i) => {
    grids.push(g);
    xAxes.push({
        gridIndex: i, type: 'value', min: -180, max: 180, interval: 60,
        axisLine: { show: false }, axisTick: { show: false }, splitLine: { show: false },
        axisLabel: { margin: 10, fontSize: 30, fontFamily: axisFont, color: '#222',
            formatter: v => lonLabels[lonTicks.indexOf(v)] }
    });
    yAxes.push({
        gridIndex: i, type: 'value', min: millerBottom, max: millerTop,
        axisLine: { show: false }, axisTick: { show: false }, splitLine: { show: false },
        axisLabel: { margin: 14, fontSize: 30, fontFamily: axisFont, color: '#222',
            customValues: latTicks.map(miller),
            formatter: v => latLabels[latTicks.findIndex(l => Math.abs(miller(l) - v) < 1e-6)] }
    });
    series.push(polygonSeries(landPolygons, i, '#cccccc', 2));
    series.push(polygonSeries(lakes, i, '#ffffff', 3));
    const latLines = [], lonLines = [];
    latTicks.slice(0, 5).forEach(l => latLines.push([-180, miller(l)], [180, miller(l)], ['-', '-']));
    lonTicks.slice(1, 6).forEach(l => lonLines.push([l, millerBottom], [l, millerTop], ['-', '-']));
    series.push({ type: 'line', xAxisIndex: i, yAxisIndex: i, data: latLines, silent: true, z: 6, showSymbol: false, symbol: 'none',
        lineStyle: { color: '#111', width: 3, type: [3, 3] } });
    series.push({ type: 'line', xAxisIndex: i, yAxisIndex: i, data: lonLines, silent: true, z: 6, showSymbol: false, symbol: 'none',
        lineStyle: { color: '#111', width: 2, type: [4, 4] } });
    series.push(frameSeries(i, -180, 180, millerBottom, millerTop));
});
series.push(trackSeries(fnmocTracks, 0, '#1f77b4', 6));
series.push(trackSeries([fnmocCaribbeanTrack], 0, '#5aa7dc', 3));
series.push(trackSeries(cmemsTracks, 1, '#1f77b4', 5));
series.push(trackSeries(aomlTracks, 2, '#1f77b4', 5));

const yNames = ['WMO 7-digits IDs', 'WMO 7 digits IDs', 'WMO 7-digits IDs'];
const xNames = ['Start End Times', 'Start-End Times', 'Start End Times'];
[fnmocSegments, cmemsSegments, aomlSegments].forEach((segs, k) => {
    const i = k + 3;
    grids.push(timeGrids[k]);
    xAxes.push({
        gridIndex: i, type: 'value', min: 0, max: 24, interval: 6,
        name: xNames[k], nameLocation: 'middle', nameGap: 61,
        nameTextStyle: { fontSize: 29, fontFamily: axisFont, color: '#222' },
        axisLine: { show: false }, axisTick: { length: 7, lineStyle: { color: '#333', width: 3 } },
        splitLine: { show: true, lineStyle: { color: timeSplitColors[k], width: 2, type: [14, 8] } },
        axisLabel: { margin: 14, fontSize: 29, fontFamily: axisFont, color: '#222',
            formatter: v => timeLabels[v / 6] }
    });
    yAxes.push({
        gridIndex: i, type: 'value', min: 0, max: 8, interval: 1,
        name: yNames[k], nameLocation: 'middle', nameGap: 52,
        nameTextStyle: { fontSize: 29, fontFamily: axisFont, color: '#222' },
        axisLine: { show: false }, axisTick: { length: 7, lineStyle: { color: '#333', width: 3 } },
        splitLine: { show: true, lineStyle: { color: '#bdbdbd', width: 3, type: [7, 6] } },
        axisLabel: { margin: 14, fontSize: 30, fontFamily: axisFont, color: '#222' }
    });
    series.push(segmentSeries(segs, i));
    series.push(frameSeries(i, 0, 24, 0, 8));
});

function label(text, cx, cy, size, family) {
    return {
        text: text, left: cx, top: cy, textAlign: 'center', textVerticalAlign: 'middle', padding: 0,
        textStyle: { fontSize: size, fontWeight: 'normal', fontFamily: family, color: '#222' }
    };
}
const titles = [
    label('(a) FNMOC Only (N = 70)', 674, 77, 61, 'Liberation Sans'),
    label('(b) CMEMS Only (N = 83)', 2010, 77, 61, 'Liberation Sans'),
    label('(c) AOML Only (N = 81)', 3316, 77, 61, 'Liberation Sans'),
    label('(d)', 676, 1130, 61, 'Liberation Sans'),
    label('(e)', 1968, 1132, 61, 'Liberation Sans'),
    label('(f)', 3277, 1135, 61, 'Liberation Sans'),
    label('1e6', 160, 1211, 29, axisFont),
    label('1e6', 1431, 1211, 29, axisFont),
    label('1e6', 2695, 1214, 29, axisFont),
    label('FNMOC Only', 1088, 1325, 29, axisFont),
    label('CMEMS Only', 2360, 1325, 29, axisFont),
    label('AOML Only', 3610, 1329, 29, axisFont)
];

const myChart = echarts.init(document.getElementById('container'), null, { renderer: 'canvas' });
myChart.setOption({
    animation: false,
    backgroundColor: '#fff',
    title: titles,
    grid: grids,
    xAxis: xAxes,
    yAxis: yAxes,
    series: series
});
window.addEventListener('resize', myChart.resize);
</script>
</body>
</html>
